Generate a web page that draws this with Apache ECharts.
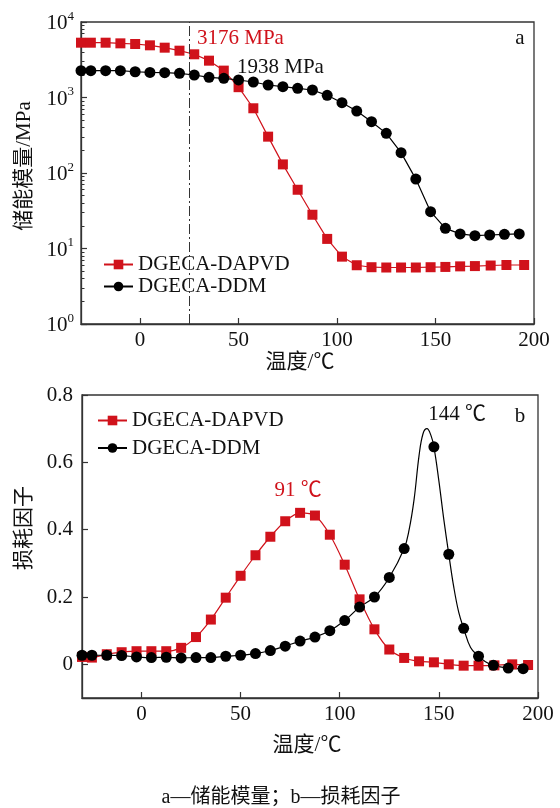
<!DOCTYPE html>
<html><head><meta charset="utf-8">
<script src="https://cdn.jsdelivr.net/npm/echarts@6/dist/echarts.min.js"></script>
<style>html,body{margin:0;padding:0;background:#fff}#c{width:560px;height:808px}</style>
</head><body><div id="c"></div>
<script>
// ---------- data ----------
const seriesNames = ['DGECA-DAPVD', 'DGECA-DDM'];
// (a) storage modulus
const tempA_red = [-30,-25,-17.5,-10,-2.5,5,12.5,20,27.5,35,42.5,50,57.5,65,72.5,80,87.5,95,102.5,110,117.5,125,132.5,140,147.5,155,162.5,170,178,186,195];
const storageRed = [5320,5320,5320,5215,5115,4910,4570,4170,3735,3075,2270,1370,720,303,130,60,28,13.4,7.8,6.0,5.65,5.6,5.6,5.6,5.65,5.7,5.8,5.85,5.95,6.05,6.05];
const tempA_black = [-30,-25,-17.5,-10,-2.5,5,12.5,20,27.5,35,42.5,50,57.5,65,72.5,80,87.5,95,102.5,110,117.5,125,132.5,140,147.5,155,162.5,170,177.5,185,192.5];
const storageBlack = [2265,2265,2265,2265,2193,2150,2133,2090,1986,1850,1795,1706,1604,1464,1391,1324,1257,1069,853,662,478,335,186,83,30.7,18.5,15.6,14.8,15.1,15.4,15.6];
const refTemp = 25;
// (b) loss factor
const tempB_red = [-30,-25,-17.5,-10,-2.5,5,12.5,20,27.5,35,42.5,50,57.5,65,72.5,80,87.5,95,102.5,110,117.5,125,132.5,140,147.5,155,162.5,170,178,187,195];
const tanRed = [0.022,0.020,0.030,0.036,0.039,0.039,0.039,0.049,0.081,0.133,0.198,0.263,0.324,0.379,0.425,0.450,0.442,0.385,0.296,0.193,0.104,0.044,0.019,0.009,0.006,0.000,-0.004,-0.004,-0.003,0.000,-0.002];
const tempB_black = [-30,-25,-17.5,-10,-2.5,5,12.5,20,27.5,35,42.5,50,57.5,65,72.5,80,87.5,95,102.5,110,117.5,125,132.5,135,137.5,140,142,144,146,147.5,150,152.5,155,157.5,160,162.5,166,170,173.5,177.5,185,192.5];
const tanBlack = [0.027,0.027,0.027,0.026,0.022,0.020,0.021,0.019,0.020,0.020,0.024,0.027,0.032,0.041,0.054,0.069,0.081,0.100,0.130,0.170,0.200,0.258,0.344,0.400,0.490,0.620,0.685,0.700,0.680,0.646,0.545,0.430,0.327,0.230,0.155,0.107,0.050,0.024,0.008,-0.003,-0.011,-0.013];
const markerBlack = [1,1,1,1,1,1,1,1,1,1,1,1,1,1,1,1,1,1,1,1,1,1,1,0,0,0,0,0,0,1,0,0,1,0,0,1,0,1,0,1,1,1];
// ticks
const xTicks = [0,50,100,150,200];
const tanTicks = [0,0.2,0.4,0.6,0.8];
const minorLogTicks = [];
for (let n = 0; n < 4; n++) for (let k = 2; k <= 9; k++) minorLogTicks.push(n + Math.log10(k));

// ---------- style ----------
const FONT = '"Liberation Serif", "Noto Sans CJK SC", serif';
const RED = '#d0121b';
const INK = '#111';
const AX = '#333';
const zip = (xs, ys) => xs.map((x, i) => [x, ys[i]]);

const axisLine = { show: true, onZero: false, lineStyle: { color: AX, width: 1.3 } };
const xAxisCommon = {
  type: 'value', min: -30, max: 200,
  axisLine, splitLine: { show: false },
  axisTick: { show: true, inside: true, length: 6, customValues: xTicks, lineStyle: { color: AX, width: 1.2 } },
  axisLabel: { customValues: xTicks, fontSize: 21, color: INK, fontFamily: FONT, margin: 6 }
};

const chart = echarts.init(document.getElementById('c'), null, { renderer: 'canvas' });
const legendCommon = {
  data: seriesNames, orient: 'vertical', itemWidth: 29, itemHeight: 12, padding: 0,
  selectedMode: false,
  textStyle: { fontFamily: FONT, fontSize: 21, color: INK, lineHeight: 21 }
};
const txt = (text, x, y, extra = {}) => ({
  type: 'text', x, y, silent: true, rotation: extra.rotation || 0,
  style: { text, fill: extra.fill || INK, font: (extra.size || 21) + 'px ' + FONT,
    textAlign: extra.align || 'left', textVerticalAlign: 'middle' }
});

chart.setOption({
  animation: false,
  textStyle: { fontFamily: FONT },
  grid: [
    { left: 81, top: 22, right: 26, bottom: 484, show: true, borderColor: AX, borderWidth: 1.3, containLabel: false },
    { left: 82, top: 395, right: 22, bottom: 110, show: true, borderColor: AX, borderWidth: 1.3, containLabel: false }
  ],
  legend: [
    Object.assign({}, legendCommon, { left: 103, top: 254, itemGap: 1 }),
    Object.assign({}, legendCommon, { left: 97, top: 410, itemGap: 6.5 })
  ],
  xAxis: [
    Object.assign({ gridIndex: 0 }, xAxisCommon),
    Object.assign({ gridIndex: 1 }, xAxisCommon)
  ],
  yAxis: [
    {
      gridIndex: 0, type: 'log', logBase: 10, min: 1, max: 10000,
      axisLine, splitLine: { show: false },
      axisTick: { show: true, inside: true, length: 6, lineStyle: { color: AX, width: 1.2 } },
      axisLabel: {
        margin: 7, color: INK,
        formatter: v => '{b|10}{s|' + Math.round(Math.log10(v)) + '}',
        rich: {
          b: { fontSize: 21, fontFamily: FONT, color: INK, lineHeight: 24, verticalAlign: 'bottom' },
          s: { fontSize: 13, fontFamily: FONT, color: INK, lineHeight: 24, verticalAlign: 'top' }
        }
      }
    },
    {
      gridIndex: 0, type: 'value', min: 0, max: 4, position: 'left',
      axisLine: { show: false, onZero: false }, axisLabel: { show: false }, splitLine: { show: false },
      axisTick: { show: true, inside: true, length: 3.5, customValues: minorLogTicks, lineStyle: { color: AX, width: 1 } }
    },
    {
      gridIndex: 1, type: 'value', min: -0.1, max: 0.8,
      axisLine, splitLine: { show: false },
      axisTick: { show: true, inside: true, length: 6, customValues: tanTicks, lineStyle: { color: AX, width: 1.2 } },
      axisLabel: { customValues: tanTicks, fontSize: 21, color: INK, fontFamily: FONT, margin: 9,
        formatter: v => v === 0 ? '0' : v.toFixed(1) }
    }
  ],
  series: [
    {
      name: seriesNames[0], type: 'line', xAxisIndex: 0, yAxisIndex: 0,
      data: zip(tempA_red, storageRed), symbol: 'rect', symbolSize: 10, showAllSymbol: true,
      lineStyle: { color: RED, width: 1.2 }, itemStyle: { color: RED },
      markLine: {
        silent: true, symbol: 'none', label: { show: false },
        lineStyle: { type: [10, 3, 2, 3], color: '#333', width: 1 },
        data: [{ xAxis: refTemp }]
      }
    },
    {
      name: seriesNames[1], type: 'line', xAxisIndex: 0, yAxisIndex: 0,
      data: zip(tempA_black, storageBlack), symbol: 'circle', symbolSize: 11, showAllSymbol: true,
      lineStyle: { color: '#000', width: 1.2 }, itemStyle: { color: '#000' }
    },
    {
      name: seriesNames[0], type: 'line', xAxisIndex: 1, yAxisIndex: 2,
      data: zip(tempB_red, tanRed), symbol: 'rect', symbolSize: 10, showAllSymbol: true, smooth: 0.3,
      lineStyle: { color: RED, width: 1.2 }, itemStyle: { color: RED }
    },
    {
      name: seriesNames[1], type: 'line', xAxisIndex: 1, yAxisIndex: 2,
      data: tempB_black.map((x, i) => markerBlack[i] ? [x, tanBlack[i]] : { value: [x, tanBlack[i]], symbol: 'none' }),
      symbol: 'circle', symbolSize: 11, showAllSymbol: true, smooth: 0.4,
      lineStyle: { color: '#000', width: 1.2 }, itemStyle: { color: '#000' }
    }
  ],
  graphic: [
    txt('3176 MPa', 197, 38, { fill: RED }),
    txt('1938 MPa', 237, 67),
    txt('a', 520, 38, { align: 'center' }),
    txt('温度/℃', 300, 362, { align: 'center' }),
    txt('储能模量/MPa', 24, 166, { align: 'center', rotation: Math.PI / 2 }),
    txt('b', 520, 416, { align: 'center' }),
    txt('144 ℃', 457, 414, { align: 'center' }),
    txt('91 ℃', 298, 490, { align: 'center', fill: RED }),
    txt('温度/℃', 307, 745, { align: 'center' }),
    txt('损耗因子', 24, 528, { align: 'center', rotation: Math.PI / 2 }),
    txt('a—储能模量；b—损耗因子', 281, 798, { align: 'center', size: 20 })
  ]
});
</script></body></html>
